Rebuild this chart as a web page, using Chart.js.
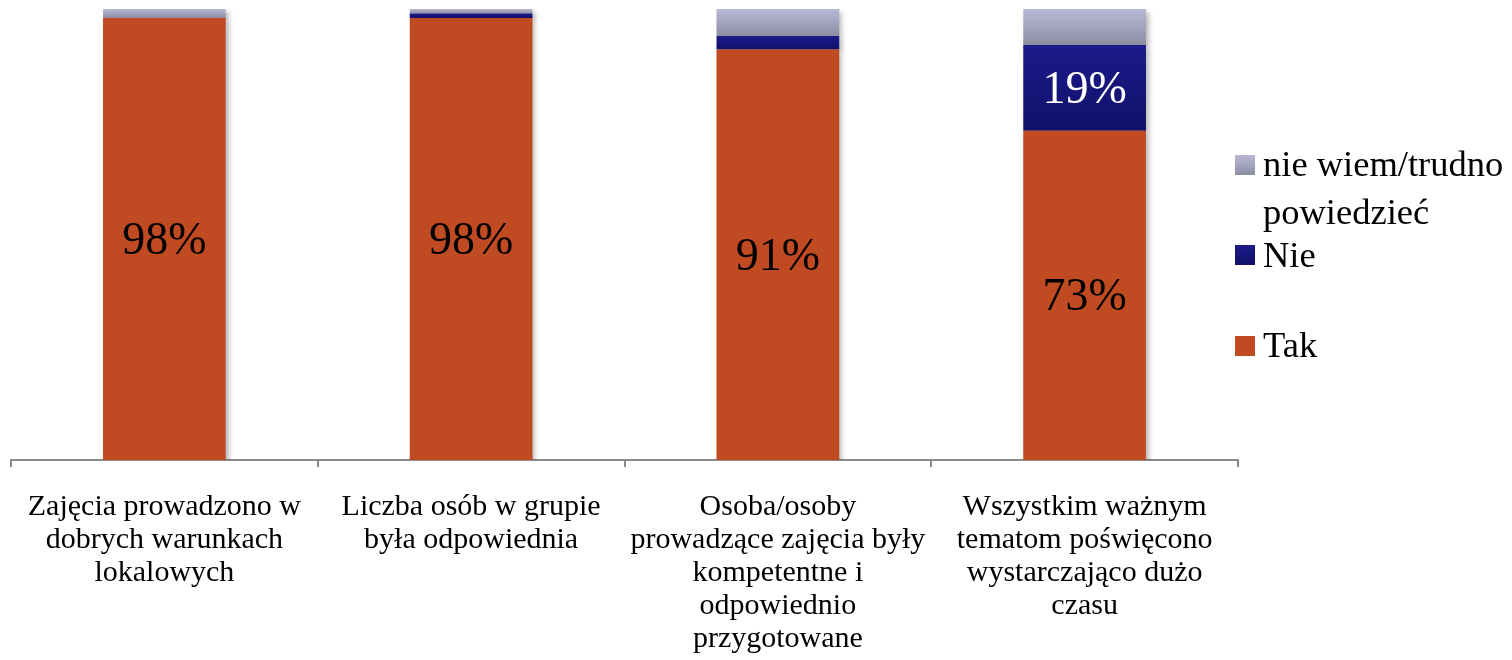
<!DOCTYPE html>
<html>
<head>
<meta charset="utf-8">
<script src="https://cdn.jsdelivr.net/npm/chart.js@4/dist/chart.umd.min.js"></script>
<style>
	body { margin: 0; background: #fff; }
	#wrap { position: relative; width: 1512px; height: 660px; }
	.legendBox { position: absolute; left: 1235px; width: 20px; height: 20px; }
	.legendText { position: absolute; left: 1263px; font-family: "Liberation Serif", "Times New Roman", serif; font-size: 36.5px; line-height: 48px; color: #000; white-space: nowrap; }
</style>
</head>
<body>
<div id="wrap">
	<canvas id="chart" width="1512" height="660"></canvas>
	<div class="legendBox" style="top:155px; background: linear-gradient(#b9b9d7, #8d8da3);"></div>
	<div class="legendText" style="top:140px;">nie wiem/trudno<br>powiedzieć</div>
	<div class="legendBox" style="top:245px; background: linear-gradient(#1b1b8a, #11106a);"></div>
	<div class="legendText" style="top:231px;">Nie</div>
	<div class="legendBox" style="top:336px; background: #c04b22;"></div>
	<div class="legendText" style="top:321px;">Tak</div>
</div>
<script>
// Categories (multi-line labels) and series values in percent.
const categories = [
	["Zajęcia prowadzono w", "dobrych warunkach", "lokalowych"],
	["Liczba osób w grupie", "była odpowiednia"],
	["Osoba/osoby", "prowadzące zajęcia były", "kompetentne i", "odpowiednio", "przygotowane"],
	["Wszystkim ważnym", "tematom poświęcono", "wystarczająco dużo", "czasu"]
];
const tak = [98, 98, 91, 73];
const nie = [0, 1, 3, 19];
const nieWiem = [2, 1, 6, 8];

const serif = '"Liberation Serif", "Times New Roman", serif';

// Vertical gradient across one stacked segment, computed from the y scale.
function segmentGradient(top, bottom, below) {
	return function (context) {
		const chart = context.chart;
		const y = chart.scales.y;
		const i = context.dataIndex;
		if (!y || i === undefined) return top;
		const start = below.reduce((s, arr) => s + arr[i], 0);
		const end = start + context.dataset.data[i];
		const y0 = y.getPixelForValue(end);
		const y1 = y.getPixelForValue(start);
		if (!isFinite(y0) || !isFinite(y1) || y0 === y1) return top;
		const g = chart.ctx.createLinearGradient(0, y0, 0, y1);
		g.addColorStop(0, top);
		g.addColorStop(1, bottom);
		return g;
	};
}

// Soft shadow behind the bars.
const shadowPlugin = {
	id: 'barShadow',
	beforeDatasetsDraw(chart) {
		const ctx = chart.ctx;
		ctx.save();
		ctx.shadowColor = 'rgba(0,0,0,0.28)';
		ctx.shadowBlur = 5;
		ctx.shadowOffsetX = 3;
		ctx.shadowOffsetY = 3;
	},
	afterDatasetsDraw(chart) {
		chart.ctx.restore();
	}
};

// Percent labels in the middle of the larger segments.
const labelPlugin = {
	id: 'valueLabels',
	afterDraw(chart) {
		const ctx = chart.ctx;
		ctx.save();
		ctx.font = '46px ' + serif;
		ctx.textAlign = 'center';
		ctx.textBaseline = 'middle';
		chart.data.datasets.forEach(function (ds, di) {
			const meta = chart.getDatasetMeta(di);
			meta.data.forEach(function (bar, i) {
				const v = ds.data[i];
				if (v < 10) return;
				const p = bar.getProps(['x', 'y', 'base'], true);
				ctx.fillStyle = ds.labelColor;
				ctx.fillText(v + '%', p.x, (p.y + p.base) / 2 + 3);
			});
		});
		ctx.restore();
	}
};

new Chart(document.getElementById('chart'), {
	type: 'bar',
	data: {
		labels: categories,
		datasets: [
			{ label: 'Tak', data: tak, backgroundColor: '#c04b22', labelColor: '#000' },
			{ label: 'Nie', data: nie, backgroundColor: segmentGradient('#1b1b8a', '#11106a', [tak]), labelColor: '#fff' },
			{ label: 'nie wiem/trudno powiedzieć', data: nieWiem, backgroundColor: segmentGradient('#b9b9d7', '#8d8da3', [tak, nie]), labelColor: '#000' }
		]
	},
	options: {
		responsive: false,
		animation: false,
		events: [],
		layout: { padding: { top: 9, left: 11, right: 274, bottom: 0 } },
		datasets: { bar: { categoryPercentage: 0.4, barPercentage: 1, borderWidth: 0 } },
		plugins: { legend: { display: false }, tooltip: { enabled: false } },
		scales: {
			x: {
				stacked: true,
				grid: { offset: true, drawOnChartArea: false, tickLength: 7, color: '#8a8a8a', lineWidth: 2 },
				border: { color: '#8a8a8a', width: 2 },
				ticks: {
					color: '#000',
					padding: 24,
					maxRotation: 0,
					autoSkip: false,
					font: { family: serif, size: 30, lineHeight: 1.1 }
				},
				afterFit(scale) { scale.height = 200; }
			},
			y: {
				stacked: true,
				display: false,
				min: 0,
				max: 100
			}
		}
	},
	plugins: [shadowPlugin, labelPlugin]
});
</script>
</body>
</html>
